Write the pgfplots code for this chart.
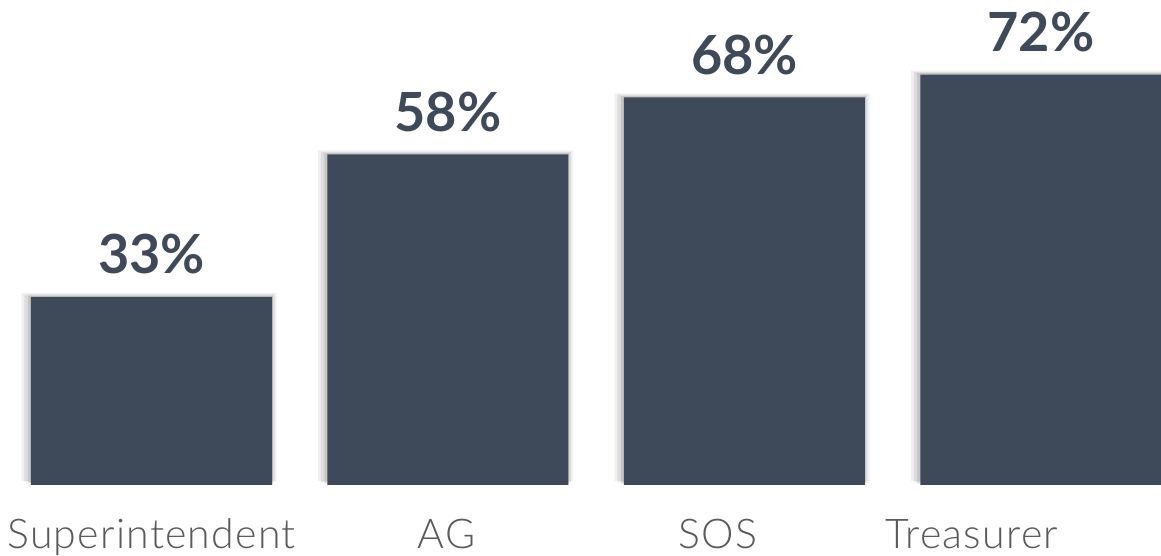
\documentclass[border=0pt]{standalone}
\usepackage{pgfplots}
\pgfplotsset{compat=1.18}
\usepackage{fontspec}
\setmainfont{Lato}
\newfontfamily\lightfont{Lato Light}[LetterSpace=3]
\definecolor{barcol}{HTML}{3E4A59}
\definecolor{labcol}{HTML}{5A5A5A}
\begin{document}
\begin{tikzpicture}
  \begin{axis}[
    scale only axis,
    width=580.5pt, height=242.5pt,
    xmin=-0.511, xmax=3.405,
    ymin=0, ymax=85.09,
    axis line style={draw=none},
    tick style={draw=none},
    ytick=\empty,
    xtick={0,0.995,1.91,2.767},
    xticklabels={Superintendent,AG,SOS,Treasurer},
    xticklabel style={anchor=base, yshift=-27.5pt, inner sep=0pt,
      font=\lightfont\fontsize{20.5}{24}\selectfont, text=labcol},
    ybar, bar shift=0pt,
  ]
    % soft shadow, drawn as a few faint wider copies
    \addplot[fill=black, fill opacity=0.06, draw=none, bar width=127.5pt, xshift=-1.2pt, yshift=2pt]
      coordinates {(0,33) (1,58) (2,68) (3,72)};
    \addplot[fill=black, fill opacity=0.08, draw=none, bar width=125pt, xshift=-1pt, yshift=1.3pt]
      coordinates {(0,33) (1,58) (2,68) (3,72)};
    \addplot[fill=black, fill opacity=0.10, draw=none, bar width=122.5pt, xshift=-0.6pt, yshift=0.7pt]
      coordinates {(0,33) (1,58) (2,68) (3,72)};
    \addplot[fill=barcol, draw=none, bar width=120.5pt,
      nodes near coords={\pgfmathprintnumber[assume math mode=true]{\pgfplotspointmeta}\%},
      nodes near coords style={anchor=base, inner sep=0pt, yshift=11.5pt,
        font=\fontsize{27}{31}\selectfont\bfseries, text=barcol}]
      coordinates {(0,33) (1,58) (2,68) (3,72)};
    \coordinate (bl) at (rel axis cs:0,0);
    \coordinate (tr) at (rel axis cs:1,1);
  \end{axis}
  \pgfresetboundingbox
  \path (bl) ++(0,-35.5pt) rectangle (tr);
\end{tikzpicture}
\end{document}
